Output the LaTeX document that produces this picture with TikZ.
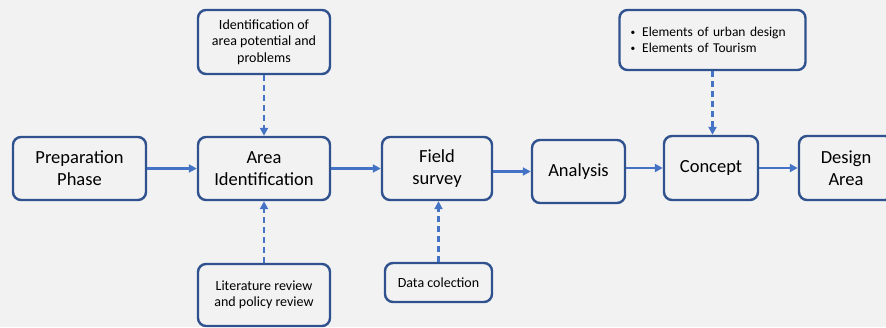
\documentclass[tikz,border=0pt]{standalone}
\usepackage{fontspec}
\setmainfont{Carlito}
\usepackage{tikz}
\usetikzlibrary{arrows.meta,calc,positioning}
\definecolor{boxblue}{HTML}{2F528F}
\definecolor{arrowblue}{HTML}{4472C4}
\definecolor{bggray}{HTML}{F2F2F2}
\newcommand{\smallbul}{\raisebox{1pt}{\scalebox{0.7}{\textbullet}}\hspace{7pt}}

\tikzset{
  stagebox/.style={draw=boxblue, line width=2.4pt, rounded corners=8pt,
    align=center, inner sep=0pt, font=\fontsize{18.5}{22}\selectfont},
  notebox/.style={draw=boxblue, line width=2.4pt, rounded corners=8pt,
    align=center, inner sep=0pt, font=\fontsize{14}{16.5}\selectfont},
  flow/.style={draw=arrowblue, line width=2.4pt, -{Triangle[length=8pt,width=8pt]}},
  feed/.style={flow, dash pattern=on 6pt off 4pt},
}

\begin{document}
\begin{tikzpicture}[x=1pt,y=-1pt]
\fill[bggray] (0,0) rectangle (886,327);
\useasboundingbox (0,0) rectangle (886,327);
\clip (0,0) rectangle (886,327);
% main stages
\node[stagebox, minimum width=133pt, minimum height=63pt] (prep) at (79.5,168.5) {Preparation\\Phase};
\node[stagebox, minimum width=132pt, minimum height=63pt] (area) at (264,168.5) {Area\\Identification};
\node[stagebox, minimum width=110pt, minimum height=63pt] (field) at (437,168.5) {Field\\survey};
\node[stagebox, minimum width=93pt, minimum height=63pt] (analysis) at (578.5,171.5) {Analysis};
\node[stagebox, minimum width=94pt, minimum height=64pt] (concept) at (711,168) {Concept};
\node[stagebox, minimum width=94pt, minimum height=64pt] (design) at (846,168) {Design\\Area};
% side inputs
\node[notebox, minimum width=132pt, minimum height=64pt] (potential) at (264,42) {Identification of\\area potential and\\problems};
\node[notebox, minimum width=132pt, minimum height=62pt] (review) at (264,295) {Literature review\\and policy review};
\node[notebox, minimum width=107pt, minimum height=39pt] (data) at (438.5,282.5) {Data colection};
\node[notebox, minimum height=60pt, text width=164pt, inner xsep=11pt, align=left,
  font=\fontsize{13.5}{16}\selectfont] (elements) at (712.5,40)
  {\smallbul Elements of urban design\\\smallbul Elements of Tourism};
% connectors
\draw[flow] (prep.east) -- (prep.east -| area.west);
\draw[flow] (area.east) -- (area.east -| field.west);
\draw[flow] (field.east |- analysis.west) -- (analysis.west);
\draw[flow] (analysis.east |- concept.west) -- (concept.west);
\draw[flow] (concept.east) -- (concept.east -| design.west);
\draw[feed] (potential.south) -- (area.north);
\draw[feed] (review.north) -- (area.south);
\draw[feed] (data.north) -- (data.north |- field.south);
\draw[feed] (elements.south) -- (elements.south |- concept.north);
\end{tikzpicture}
\end{document}
